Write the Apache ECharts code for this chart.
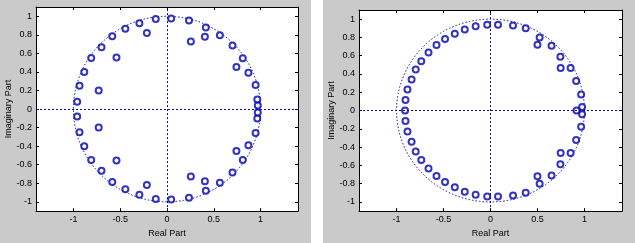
<!DOCTYPE html>
<html>
<head>
<meta charset="utf-8">
<script src="https://cdn.jsdelivr.net/npm/echarts@6/dist/echarts.min.js"></script>
<style>
html,body{margin:0;padding:0;background:#fff;}
#c{width:635px;height:243px;}
</style>
</head>
<body>
<div id="c"></div>
<script>
// ---- data ----
var xTicks = [-1, -0.5, 0, 0.5, 1];
var yTicks = [-1, -0.8, -0.6, -0.4, -0.2, 0, 0.2, 0.4, 0.6, 0.8, 1];
var xLabelName = 'Real Part';
var yLabelName = 'Imaginary Part';

// left plot: roots (real, imaginary)
var leftRe = [-0.12, 0.045, 0.235, -0.295, -0.445, -0.585, -0.70, -0.81, -0.884, -0.935, -0.96,
              0.415, 0.565, 0.70, 0.81, 0.87, 0.947, 0.965, 0.97,
              -0.215, -0.54, -0.73, 0.255, 0.405, 0.742,
              -0.12, 0.045, 0.235, -0.295, -0.445, -0.585, -0.70, -0.81, -0.884, -0.935, -0.96,
              0.415, 0.565, 0.70, 0.81, 0.87, 0.947, 0.965, 0.97,
              -0.215, -0.54, -0.73, 0.255, 0.405, 0.742];
var leftIm = [0.97, 0.975, 0.955, 0.925, 0.865, 0.785, 0.665, 0.55, 0.40, 0.25, 0.08,
              0.88, 0.795, 0.685, 0.548, 0.39, 0.258, 0.103, 0.037,
              0.82, 0.555, 0.20, 0.728, 0.778, 0.452,
              -0.97, -0.975, -0.955, -0.925, -0.865, -0.785, -0.665, -0.55, -0.40, -0.25, -0.08,
              -0.88, -0.795, -0.685, -0.548, -0.39, -0.258, -0.103, -0.037,
              -0.82, -0.555, -0.20, -0.728, -0.778, -0.452];

// right plot: roots (real, imaginary)
var rightRe = [-0.035, 0.08, 0.24, 0.375, -0.158, -0.274, -0.38, -0.484, -0.575, -0.66, -0.737, -0.796, -0.84, -0.884, -0.905,
               0.523, 0.50, 0.65, 0.744, 0.747, 0.853, 0.912, 0.965, 0.975,
               -0.035, 0.08, 0.24, 0.375, -0.158, -0.274, -0.38, -0.484, -0.575, -0.66, -0.737, -0.796, -0.84, -0.884, -0.905,
               0.523, 0.50, 0.65, 0.744, 0.747, 0.853, 0.912, 0.965, 0.975,
               -0.91, 0.916];
var rightIm = [0.94, 0.94, 0.93, 0.90, 0.922, 0.888, 0.84, 0.782, 0.717, 0.635, 0.54, 0.448, 0.34, 0.23, 0.115,
               0.80, 0.72, 0.71, 0.588, 0.465, 0.465, 0.323, 0.176, 0.04,
               -0.94, -0.94, -0.93, -0.90, -0.922, -0.888, -0.84, -0.782, -0.717, -0.635, -0.54, -0.448, -0.34, -0.23, -0.115,
               -0.80, -0.72, -0.71, -0.588, -0.465, -0.465, -0.323, -0.176, -0.04,
               0, 0];

// ---- chart ----
var BLUE = '#0000b4';
var LINE_BLUE = '#0a0aa0';
var FONT = 'Liberation Sans';

function pairs(re, im) {
  var out = [];
  for (var i = 0; i < re.length; i++) out.push([re[i], im[i]]);
  return out;
}

function xAxes(g, nameGap) {
  return [{
    type: 'value', gridIndex: g, position: 'bottom', min: -1.4, max: 1.4,
    name: xLabelName, nameLocation: 'middle', nameGap: nameGap,
    nameTextStyle: {color: '#000', fontSize: 9, fontFamily: FONT},
    axisLine: {show: true, onZero: false, lineStyle: {color: '#000', width: 1}},
    axisTick: {show: true, inside: true, length: 3, customValues: xTicks, lineStyle: {color: '#000'}},
    axisLabel: {show: true, customValues: xTicks, margin: 4, color: '#000', fontSize: 9, fontFamily: FONT},
    splitLine: {show: false}
  }, {
    type: 'value', gridIndex: g, position: 'top', min: -1.4, max: 1.4,
    axisLine: {show: true, onZero: false, lineStyle: {color: '#000', width: 1}},
    axisTick: {show: true, inside: true, length: 3, customValues: xTicks, lineStyle: {color: '#000'}},
    axisLabel: {show: false},
    splitLine: {show: false}
  }];
}
function yAxes(g, nameGap) {
  return [{
    type: 'value', gridIndex: g, position: 'left', min: -1.1, max: 1.1,
    name: yLabelName, nameLocation: 'middle', nameGap: nameGap, nameRotate: 90,
    nameTextStyle: {color: '#000', fontSize: 9, fontFamily: FONT},
    axisLine: {show: true, onZero: false, lineStyle: {color: '#000', width: 1}},
    axisTick: {show: true, inside: true, length: 3, customValues: yTicks, lineStyle: {color: '#000'}},
    axisLabel: {show: true, customValues: yTicks, margin: 4, color: '#000', fontSize: 9, fontFamily: FONT},
    splitLine: {show: false}
  }, {
    type: 'value', gridIndex: g, position: 'right', min: -1.1, max: 1.1,
    axisLine: {show: true, onZero: false, lineStyle: {color: '#000', width: 1}},
    axisTick: {show: true, inside: true, length: 3, customValues: yTicks, lineStyle: {color: '#000'}},
    axisLabel: {show: false},
    splitLine: {show: false}
  }];
}

function unitCircle(xi, yi) {
  return {
    type: 'custom', xAxisIndex: xi, yAxisIndex: yi, silent: true, z: 1,
    data: [[0, 0]],
    renderItem: function (params, api) {
      var c = api.coord([0, 0]);
      var e = api.coord([1, 1]);
      var rx = e[0] - c[0], ry = c[1] - e[1];
      return {
        type: 'circle', x: c[0], y: c[1], scaleY: ry / rx,
        shape: {cx: 0, cy: 0, r: rx},
        style: {fill: null, stroke: LINE_BLUE, lineWidth: 1, lineDash: [1.5, 2]}
      };
    },
    markLine: {
      silent: true, symbol: 'none', label: {show: false}, animation: false,
      lineStyle: {color: LINE_BLUE, width: 1, type: [2, 2]},
      data: [{xAxis: 0}, {yAxis: 0}]
    }
  };
}
function roots(xi, yi, re, im) {
  return {
    type: 'scatter', xAxisIndex: xi, yAxisIndex: yi, z: 3,
    symbol: 'emptyCircle', symbolSize: 6,
    itemStyle: {color: BLUE, borderColor: BLUE, borderWidth: 1},
    data: pairs(re, im)
  };
}

var chart = echarts.init(document.getElementById('c'), null, {renderer: 'canvas'});
var xa = xAxes(0, 14).concat(xAxes(1, 12));
var ya = yAxes(0, 20).concat(yAxes(1, 21));
chart.setOption({
  animation: false,
  backgroundColor: '#ffffff',
  graphic: [
    {type: 'rect', shape: {x: 0, y: 0, width: 311, height: 243}, style: {fill: '#cacaca'}, z: -10, silent: true},
    {type: 'rect', shape: {x: 323, y: 0, width: 312, height: 243}, style: {fill: '#cacaca'}, z: -10, silent: true}
  ],
  grid: [
    {left: 36, top: 7, width: 262, height: 207, show: true, backgroundColor: '#ffffff', borderWidth: 0},
    {left: 359, top: 10, width: 263, height: 208, show: true, backgroundColor: '#ffffff', borderWidth: 0}
  ],
  xAxis: xa,
  yAxis: ya,
  series: [
    unitCircle(0, 0),
    roots(0, 0, leftRe, leftIm),
    unitCircle(2, 2),
    roots(2, 2, rightRe, rightIm)
  ]
});
</script>
</body>
</html>
